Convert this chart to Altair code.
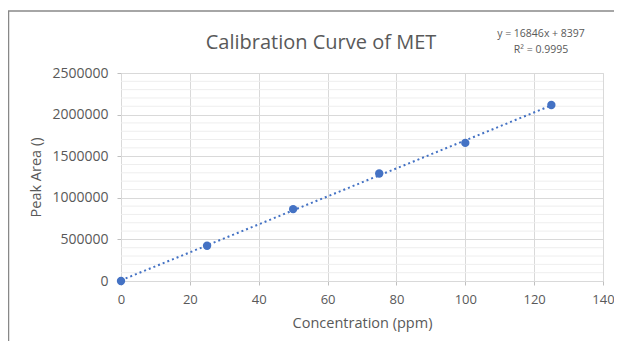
import altair as alt
import pandas as pd

# data
concentration = [0, 25, 50, 75, 100, 125]
peak_area = [0, 424000, 864000, 1292000, 1660000, 2116000]
x_ticks = [0, 20, 40, 60, 80, 100, 120, 140]
y_ticks = [0, 500000, 1000000, 1500000, 2000000, 2500000]
y_minor = [v for v in range(0, 2500001, 100000) if v % 500000 != 0]
title_text = "Calibration Curve of MET"
equation_lines = ["y = 16846x + 8397", "R\u00b2 = 0.9995"]

df = pd.DataFrame({"conc": concentration, "area": peak_area})

FONT = "Open Sans"
GREY = "#595959"
BLUE = "#4472C4"

x_scale = alt.Scale(domain=[0, 140], nice=False)
y_scale = alt.Scale(domain=[0, 2500000], nice=False)

x_axis = alt.Axis(
    values=x_ticks, grid=True, gridColor="#d9d9d9", domainColor="#d9d9d9",
    tickColor="#bfbfbf", tickSize=4, labelPadding=8, labelFontSize=13,
    labelFlush=False, labelColor=GREY, titleColor=GREY, titleFontSize=14.5,
    titleFontWeight="normal", titlePadding=10, labelFont=FONT, titleFont=FONT,
)
y_axis = alt.Axis(
    values=y_ticks, format="d", grid=True, gridColor="#d9d9d9",
    domainColor="#d9d9d9", tickColor="#bfbfbf", tickSize=4, labelPadding=9,
    labelFontSize=14, labelFlush=False, labelColor=GREY, titleColor=GREY,
    titleFontSize=14.5, titleFontWeight="normal", titlePadding=8,
    labelFont=FONT, titleFont=FONT,
)

x_enc = alt.X("conc:Q", title="Concentration (ppm)", scale=x_scale, axis=x_axis)
y_enc = alt.Y("area:Q", title="Peak Area ()", scale=y_scale, axis=y_axis)

minor = alt.Chart(pd.DataFrame({"v": y_minor})).mark_rule(
    color="#eeeeee", strokeWidth=1
).encode(y=alt.Y("v:Q", title="Peak Area ()", scale=y_scale, axis=y_axis))

base = alt.Chart(df)

trend = base.transform_regression(
    "conc", "area", extent=[0, 125]
).mark_line(color=BLUE, strokeDash=[2, 3], strokeWidth=2).encode(x=x_enc, y=y_enc)

points = base.mark_circle(color=BLUE, size=70, opacity=1).encode(x=x_enc, y=y_enc)

eq = alt.Chart(alt.Data(values=[{}])).mark_text(
    font=FONT, fontSize=10.5, color=GREY, align="center", baseline="top", lineHeight=16
).encode(x=alt.value(420), y=alt.value(-44), text=alt.value(equation_lines))

frame_top = alt.Chart(alt.Data(values=[{}])).mark_rule(color="#888888", strokeWidth=1.5).encode(
    x=alt.value(-113), x2=alt.value(493), y=alt.value(-62)
)
frame_left = alt.Chart(alt.Data(values=[{}])).mark_rule(color="#888888", strokeWidth=1.5).encode(
    x=alt.value(-112.5), y=alt.value(-62), y2=alt.value(270)
)

chart = alt.layer(minor, trend, points, eq, frame_top, frame_left).properties(
    width=482,
    height=208,
    title=alt.TitleParams(
        title_text, font=FONT, fontSize=20, fontWeight="normal", color=GREY,
        anchor="middle", frame="group", dx=-41, offset=-43,
    ),
    autosize=alt.AutoSizeParams(type="none"),
    padding={"left": 113, "top": 65, "right": 11, "bottom": 60},
).configure_view(stroke=None).configure(background="white")

chart.save("out.html", embed_options={"renderer": "svg", "actions": False})
